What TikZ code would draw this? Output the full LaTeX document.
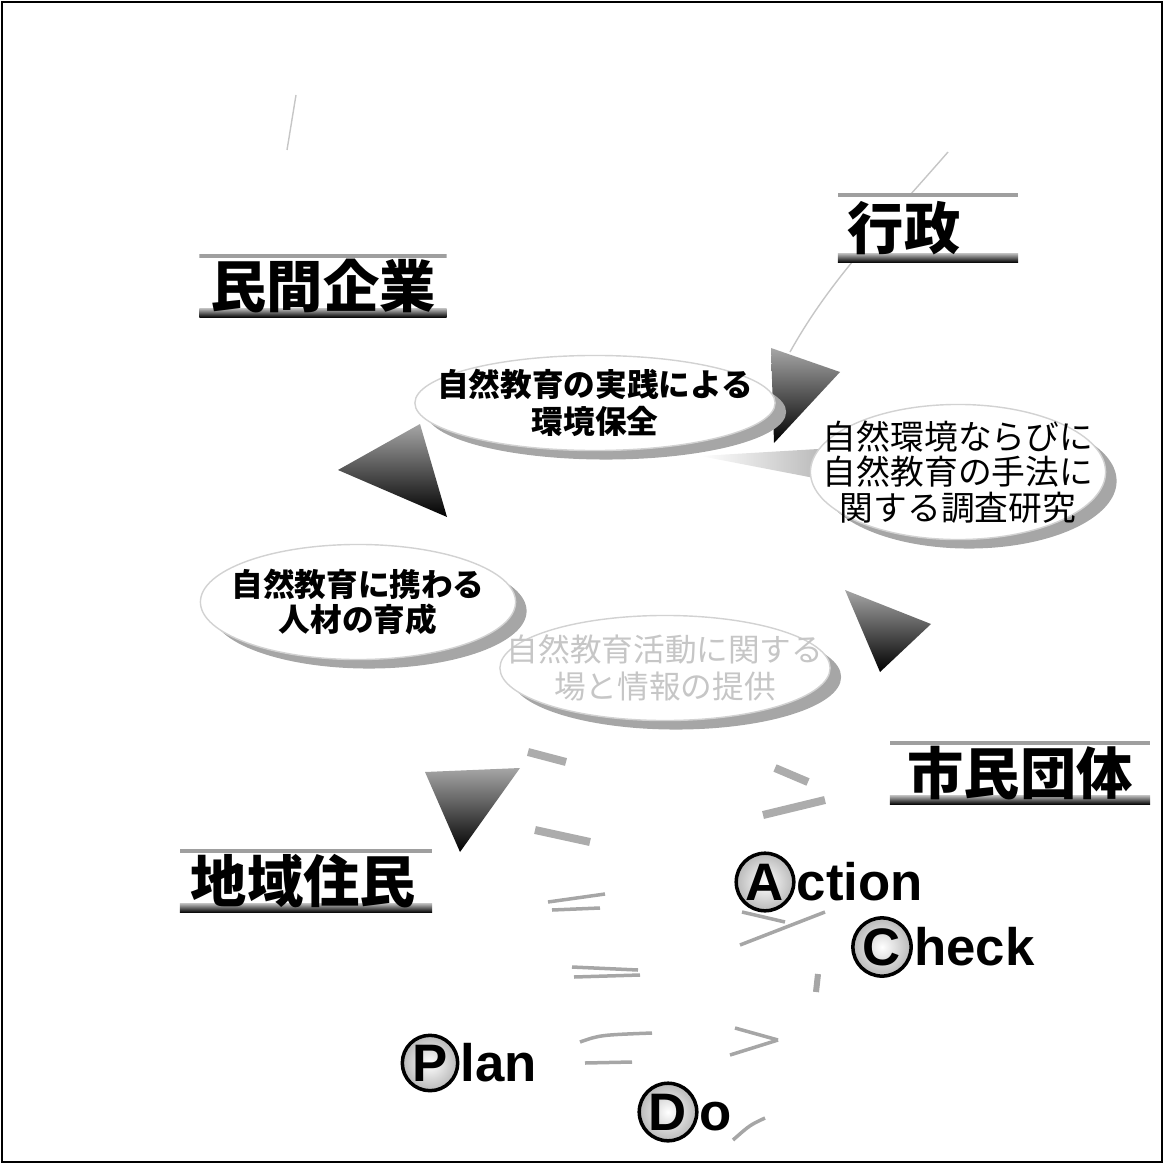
\documentclass[tikz,border=0pt]{standalone}
\usepackage{fontspec}
\setmainfont{Liberation Sans}
\newfontfamily\jpfont{Noto Sans CJK JP}
\usetikzlibrary{shapes, positioning, shadows}

\begin{document}
\begin{tikzpicture}[x=0.01cm, y=-0.01cm,
 thick,
 actor/.style={rectangle, fill=white, inner sep=0pt, minimum height=0.63cm,
   font=\jpfont\bfseries\fontsize{16}{18}\selectfont,
   path picture={
     \fill[gray!75] (path picture bounding box.north west) rectangle ([yshift=-0.35mm]path picture bounding box.north east);
     \shade[top color=gray!55, bottom color=black] ([yshift=0.9mm]path picture bounding box.south west) rectangle (path picture bounding box.south east);}},
 bubble/.style={ellipse, draw=gray!35, thin, fill=white, inner sep=0pt,
   drop shadow={shadow xshift=1.1mm, shadow yshift=-0.9mm, fill=gray!70, opacity=1}},
 btext/.style={align=center, font=\jpfont\bfseries\fontsize{9}{10.5}\selectfont},
 tri/.style={top color=gray!70, bottom color=black},
 ring/.style={circle, draw=black, line width=1pt, inner sep=0.5pt, minimum size=0.46cm,
   inner color=white, outer color=gray!55, font=\bfseries\fontsize{15}{17}\selectfont},
 pdca/.style={inner sep=0pt, font=\bfseries\fontsize{15}{17}\selectfont},
 bar/.style={gray!65, line width=0.8mm},
 trace/.style={gray!70, line width=0.35mm}]

  \useasboundingbox (0,0) rectangle (1164,1164);
  \draw[line width=0.25mm] (2,2) rectangle (1162,1162);

  % faint arrow traces
  \draw[gray!45, thin] (948,152) .. controls (880,230) and (830,280) .. (790,352);
  \draw[gray!45, thin] (296,95) -- (287,150);

  % actors
  \node[actor, minimum width=2.47cm] (kigyo) at (323,286) {民間企業};
  \node[actor, minimum width=1.8cm, minimum height=0.69cm, text width=1.6cm, align=left] (gyosei) at (928,228) {行政};
  \node[actor, minimum width=2.6cm] (shimin) at (1020,773) {市民団体};
  \node[actor, minimum width=2.52cm, text width=2.3cm, align=left] (jumin) at (306,881) {地域住民};

  % arrow heads
  \path[tri] (771,348) -- (840,372) -- (774,443) -- cycle;
  \path[tri] (338,470) -- (420,424) -- (447,517) -- cycle;
  \path[tri] (845,590) -- (931,624) -- (880,672) -- cycle;
  \path[tri] (425,772) -- (520,768) -- (460,852) -- cycle;

  % activities
  \node[bubble, minimum width=3.6cm, minimum height=0.95cm] (b1) at (595,403) {};
  \node[btext] (jissen) at (b1) {自然教育の実践による\\環境保全};

  \shade[left color=white, right color=gray!60] (700,456) -- (835,448) -- (835,482) -- cycle;
  \node[bubble, minimum width=2.95cm, minimum height=1.35cm] (b2) at (958,472) {};
  \node[btext, font=\jpfont\fontsize{9.6}{10}\selectfont] (chosa) at (b2) {自然環境ならびに\\自然教育の手法に\\関する調査研究};

  \node[bubble, minimum width=3.15cm, minimum height=1.15cm] (b3) at (358,602) {};
  \node[btext, font=\jpfont\bfseries\fontsize{9}{9.8}\selectfont] (jinzai) at (b3) {自然教育に携わる\\人材の育成};

  \node[bubble, minimum width=3.3cm, minimum height=1.05cm] (b4) at (665,668) {};
  \node[btext, text=gray!45, font=\jpfont\fontsize{9}{10.5}\selectfont] (joho) at (b4) {自然教育活動に関する\\場と情報の提供};

  % PDCA cycle
  \node[ring] (rA) at (765,882) {A};
  \node[pdca, base right=0pt of rA] (action) {ction};
  \node[ring] (rC) at (882,947) {C};
  \node[pdca, base right=0pt of rC] (check) {heck};
  \node[ring] (rP) at (430,1063) {P};
  \node[pdca, base right=0pt of rP] (plan) {lan};
  \node[ring] (rD) at (668,1112) {D};
  \node[pdca, base right=0pt of rD] (do) {o};

  \foreach \a/\b/\c/\d in {528/752/566/762, 535/830/590/842, 775/768/808/782, 763/815/825/800}
    \draw[bar] (\a,\b) -- (\c,\d);
  \foreach \a/\b/\c/\d in {548/902/605/894, 552/910/600/908, 572/967/638/970, 574/977/640/975,
      585/1063/632/1062, 742/912/785/922, 740/945/825/912, 735/1028/778/1040, 730/1055/778/1040}
    \draw[trace] (\a,\b) -- (\c,\d);
  \draw[trace] (580,1042) .. controls (600,1035) .. (652,1033);
  \draw[trace] (733,1140) .. controls (750,1125) .. (765,1118);
  \draw[trace, line width=0.6mm] (818,974) -- (816,992);
\end{tikzpicture}
\end{document}
